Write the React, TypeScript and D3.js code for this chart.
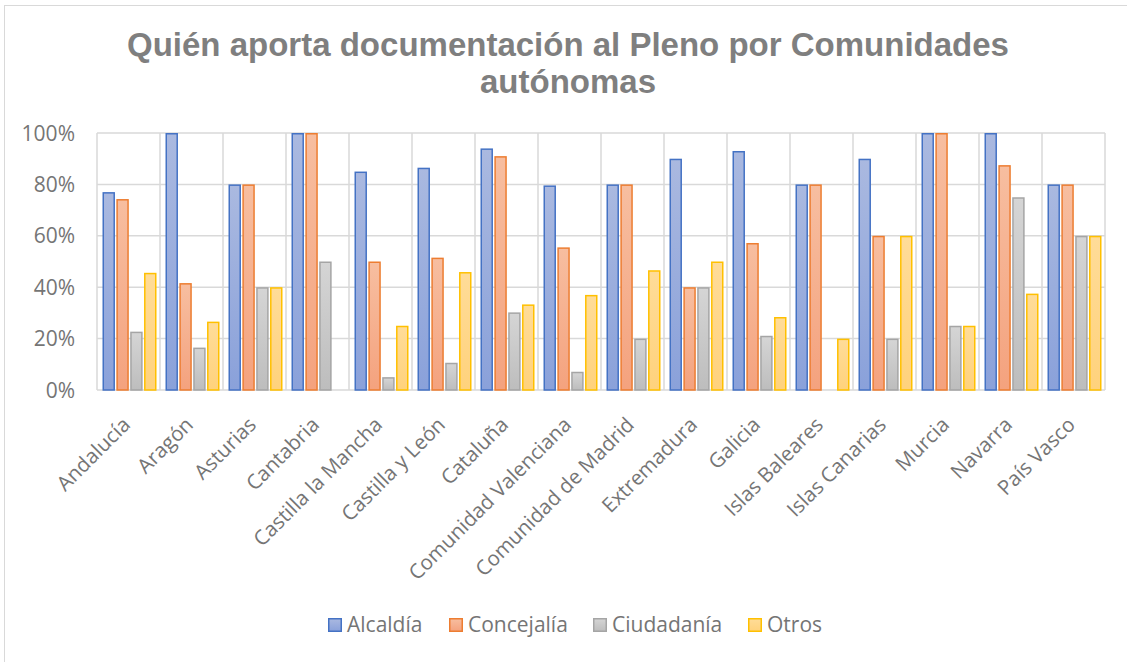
import React from 'react';
import * as d3 from 'd3';

const regions = [
  'Andalucía', 'Aragón', 'Asturias', 'Cantabria', 'Castilla la Mancha', 'Castilla y León',
  'Cataluña', 'Comunidad Valenciana', 'Comunidad de Madrid', 'Extremadura', 'Galicia',
  'Islas Baleares', 'Islas Canarias', 'Murcia', 'Navarra', 'País Vasco',
];
const alcaldia = [77, 100, 80, 100, 85, 86.5, 94, 79.6, 80, 90, 93, 80, 90, 100, 100, 80];
const concejalia = [74.3, 41.6, 80, 100, 50, 51.5, 91, 55.5, 80, 40, 57.2, 80, 60, 100, 87.5, 80];
const ciudadania = [22.7, 16.5, 40, 50, 5, 10.6, 30.2, 7.1, 20, 40, 21.1, 0, 20, 25, 75, 60];
const otros = [45.6, 26.6, 40, 0, 25, 45.9, 33.3, 37, 46.6, 50, 28.4, 20, 60, 25, 37.5, 60];
const yTicks = [0, 20, 40, 60, 80, 100];

const seriesNames = ['Alcaldía', 'Concejalía', 'Ciudadanía', 'Otros'];
const seriesValues = [alcaldia, concejalia, ciudadania, otros];
const strokes = ['#4472C4', '#ED7D31', '#A5A5A5', '#FFC000'];
const fillTop = ['#aab9e0', '#f7bea0', '#d5d5d5', '#ffdc98'];
const fillBottom = ['#8aa1da', '#f4a27e', '#bdbdbd', '#ffd27c'];

const W = 1127;
const H = 662;
const M = { left: 97, right: 22, top: 133, bottom: 272 };
const labelFont = '"Open Sans", "Noto Sans", sans-serif';
const textGray = '#757575';

export default function App() {
  const x = d3.scaleBand<string>().domain(regions).range([M.left, W - M.right]);
  const inner = d3.scaleBand<number>().domain([0, 1, 2, 3]).range([5.5, x.bandwidth() - 3.5]).paddingInner(0.1);
  const y = d3.scaleLinear().domain([0, 100]).range([H - M.bottom, M.top]);
  const fmt = (v: number) => `${v}%`;

  const legendX = [328, 449, 593, 748];

  return (
    <div style={{ position: 'fixed', left: 0, top: 0, width: W, height: H, background: '#fff' }}>
      <svg width={W} height={H} style={{ display: 'block' }}>
        <defs>
          {seriesNames.map((s, i) => (
            <linearGradient key={s} id={`grad${i}`} x1="0" y1="0" x2="0" y2="1">
              <stop offset="0%" stopColor={fillTop[i]} />
              <stop offset="100%" stopColor={fillBottom[i]} />
            </linearGradient>
          ))}
        </defs>
        <rect x={4.5} y={5.5} width={W + 10} height={H + 10} fill="#fff" stroke="#d9d9d9" />

        <text textAnchor="middle" fontFamily='"Liberation Sans", Arial, sans-serif' fontWeight="bold"
          fontSize={33} fill="#7f7f7f">
          <tspan x={568} y={56}>Quién aporta documentación al Pleno por Comunidades</tspan>
          <tspan x={568} y={93}>autónomas</tspan>
        </text>

        {yTicks.map(t => (
          <g key={t}>
            <line x1={M.left} x2={W - M.right} y1={y(t)} y2={y(t)} stroke="#d9d9d9" strokeWidth={1.5} />
            <text x={75} y={y(t) + 7.5} textAnchor="end" fontFamily={labelFont} fontSize={21} fill={textGray}>{fmt(t)}</text>
          </g>
        ))}
        {regions.map(r => (
          <line key={r} x1={x(r)} x2={x(r)} y1={y(100)} y2={y(0)} stroke="#d9d9d9" strokeWidth={1.5} />
        ))}
        <line x1={W - M.right} x2={W - M.right} y1={y(100)} y2={y(0)} stroke="#d9d9d9" strokeWidth={1.5} />

        {regions.map((r, ci) => (
          <g key={r} transform={`translate(${x(r)},0)`}>
            {seriesValues.map((vals, si) => (
              vals[ci] > 0 ? (
                <rect key={si} x={inner(si)! + 0.75} y={y(vals[ci]) + 0.75}
                  width={inner.bandwidth() - 1.5} height={y(0) - y(vals[ci]) - 0.75}
                  fill={`url(#grad${si})`} stroke={strokes[si]} strokeWidth={1.5} />
              ) : null
            ))}
          </g>
        ))}

        {regions.map(r => {
          const cx = x(r)! + x.bandwidth() / 2 + 3;
          return (
            <text key={r} transform={`translate(${cx},${y(0) + 36}) rotate(-45)`} textAnchor="end"
              fontFamily={labelFont} fontSize={20.5} fill={textGray}>{r}</text>
          );
        })}

        {seriesNames.map((s, i) => (
          <g key={s} transform={`translate(${legendX[i]},618)`}>
            <rect x={0.75} y={0.75} width={12.5} height={12.5} fill={`url(#grad${i})`} stroke={strokes[i]} strokeWidth={1.5} />
            <text x={19} y={14} fontFamily={labelFont} fontSize={21} fill={textGray}>{s}</text>
          </g>
        ))}
      </svg>
    </div>
  );
}
